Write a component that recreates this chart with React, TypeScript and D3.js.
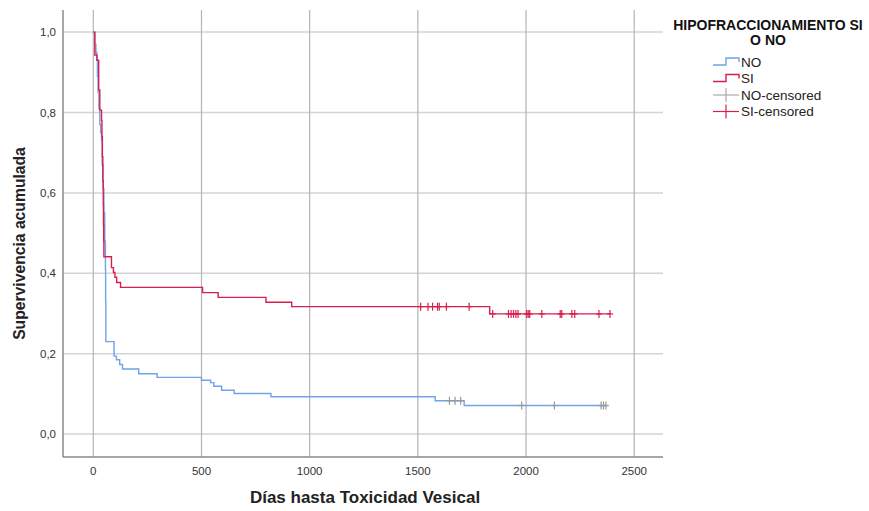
import { useEffect } from "react";
import * as d3 from "d3";

// Kaplan-Meier steps (days, cumulative survival)
const NO_TIMES = [0, 7, 12, 16, 19, 22, 26, 30, 34, 38, 41, 45, 49, 53, 56, 57, 58, 96, 107, 122, 135, 210, 295, 500, 542, 557, 593, 651, 821, 1580, 1714];
const NO_SURV = [1.0, 0.97, 0.95, 0.93, 0.89, 0.85, 0.81, 0.77, 0.75, 0.73, 0.67, 0.61, 0.55, 0.48, 0.41, 0.33, 0.23, 0.194, 0.185, 0.173, 0.162, 0.15, 0.141, 0.134, 0.128, 0.119, 0.109, 0.101, 0.093, 0.083, 0.071];
const NO_END = 2374;
const NO_CENSORED = [1646, 1672, 1698, 1980, 2131, 2347, 2358, 2369];

const SI_TIMES = [0, 7, 17, 25, 30, 38, 40, 42, 44, 46, 47, 48, 49, 84, 93, 100, 108, 126, 505, 577, 798, 917, 1832];
const SI_SURV = [1.0, 0.943, 0.93, 0.856, 0.806, 0.78, 0.74, 0.69, 0.63, 0.57, 0.52, 0.48, 0.441, 0.414, 0.402, 0.39, 0.377, 0.365, 0.352, 0.34, 0.328, 0.317, 0.299];
const SI_END = 2390;
const SI_CENSORED = [1513, 1547, 1568, 1591, 1599, 1632, 1737, 1846, 1919, 1931, 1942, 1953, 1963, 2003, 2010, 2017, 2073, 2158, 2165, 2212, 2225, 2337, 2388];

const X_TICKS = [0, 500, 1000, 1500, 2000, 2500];
const Y_TICKS = [0, 0.2, 0.4, 0.6, 0.8, 1.0];

const LEGEND_TITLE = ["HIPOFRACCIONAMIENTO SI", "O NO"];
const LEGEND_ITEMS = ["NO", "SI", "NO-censored", "SI-censored"];

const BLUE = "#6fa3ea";
const RED = "#d71f4d";
const GRAY_CENS = "#999999";
const FONT = "'Liberation Sans', Arial, sans-serif";

function survAt(times: number[], surv: number[], t: number) {
  let s = surv[0];
  for (let i = 0; i < times.length; i++) if (times[i] <= t) s = surv[i];
  return s;
}

export default function App() {
  useEffect(() => {
    document.body.style.margin = "0";
  }, []);

  const W = 869, H = 511;
  const L = 63, R = 663, T = 10, B = 457;

  const x = d3.scaleLinear().domain([-140, 2633]).range([L, R]);
  const y = d3.scaleLinear().domain([-0.057, 1.055]).range([B, T]);

  const line = d3.line<[number, number]>()
    .x(d => x(d[0])).y(d => y(d[1]))
    .curve(d3.curveStepAfter);

  const pts = (times: number[], surv: number[], end: number): [number, number][] => {
    const p = times.map((t, i) => [t, surv[i]] as [number, number]);
    p.push([end, surv[surv.length - 1]]);
    return p;
  };

  const noPath = line(pts(NO_TIMES, NO_SURV, NO_END)) || "";
  const siPath = line(pts(SI_TIMES, SI_SURV, SI_END)) || "";

  const fmt = (v: number) => v.toFixed(1).replace(".", ",");

  const lx = 713, lw = 26;
  const ly0 = 62, lstep = 16.5;

  return (
    <svg width={W} height={H} style={{ position: "absolute", left: 0, top: 0, background: "#fff" }} fontFamily={FONT}>
      {/* grid */}
      {Y_TICKS.map(v => (
        <line key={"gy" + v} x1={L} x2={R} y1={y(v)} y2={y(v)} stroke="#d4d4d4" strokeWidth={1.5} />
      ))}
      {X_TICKS.map(v => (
        <line key={"gx" + v} x1={x(v)} x2={x(v)} y1={T} y2={B} stroke="#b4b4b4" strokeWidth={1.2} />
      ))}
      {/* axes */}
      <line x1={L} x2={L} y1={T} y2={B} stroke="#8a8a8a" strokeWidth={1.5} />
      <line x1={L} x2={R} y1={B} y2={B} stroke="#8a8a8a" strokeWidth={1.5} />
      {Y_TICKS.map(v => (
        <text key={"ty" + v} x={56} y={y(v)} dy="0.35em" textAnchor="end" fontSize={11.5} fill="#333">{fmt(v)}</text>
      ))}
      {X_TICKS.map(v => (
        <text key={"tx" + v} x={x(v)} y={475} textAnchor="middle" fontSize={11.5} fill="#333">{v}</text>
      ))}
      <text x={365} y={503} textAnchor="middle" fontSize={17} fontWeight="bold" fill="#222">Días hasta Toxicidad Vesical</text>
      <text transform={`translate(25,${(T + B) / 2 + 10}) rotate(-90)`} textAnchor="middle" fontSize={15.7} fontWeight="bold" fill="#222">Supervivencia acumulada</text>

      {/* curves */}
      <path d={noPath} fill="none" stroke={BLUE} strokeWidth={1.4} />
      <path d={siPath} fill="none" stroke={RED} strokeWidth={1.4} />
      {NO_CENSORED.map((t, i) => {
        const cx = x(t), cy = y(survAt(NO_TIMES, NO_SURV, t));
        return <g key={"nc" + i} stroke={GRAY_CENS} strokeWidth={1.2}>
          <line x1={cx} x2={cx} y1={cy - 4} y2={cy + 4} />
          <line x1={cx - 3} x2={cx + 3} y1={cy} y2={cy} />
        </g>;
      })}
      {SI_CENSORED.map((t, i) => {
        const cx = x(t), cy = y(survAt(SI_TIMES, SI_SURV, t));
        return <g key={"sc" + i} stroke={RED} strokeWidth={1.2}>
          <line x1={cx} x2={cx} y1={cy - 4} y2={cy + 4} />
          <line x1={cx - 3} x2={cx + 3} y1={cy} y2={cy} />
        </g>;
      })}

      {/* legend */}
      {LEGEND_TITLE.map((s, i) => (
        <text key={"lt" + i} x={768} y={30 + i * 15} textAnchor="middle" fontSize={14} fontWeight="bold" fill="#111">{s}</text>
      ))}
      {LEGEND_ITEMS.map((s, i) => {
        const cy = ly0 + i * lstep;
        const col = i === 0 ? BLUE : i === 1 ? RED : i === 2 ? "#aaaaaa" : RED;
        const sym = i < 2
          ? <path d={`M${lx},${cy + 3}H${lx + 13}V${cy - 4}H${lx + lw}V${cy}`} fill="none" stroke={col} strokeWidth={1.4} />
          : <g stroke={col} strokeWidth={1.2}>
              <line x1={lx} x2={lx + lw} y1={cy} y2={cy} />
              <line x1={lx + 13} x2={lx + 13} y1={cy - 7} y2={cy + 7} />
            </g>;
        return <g key={"li" + i}>
          {sym}
          <text x={lx + lw + 2} y={cy} dy="0.35em" fontSize={13.5} fill="#222">{s}</text>
        </g>;
      })}
    </svg>
  );
}
